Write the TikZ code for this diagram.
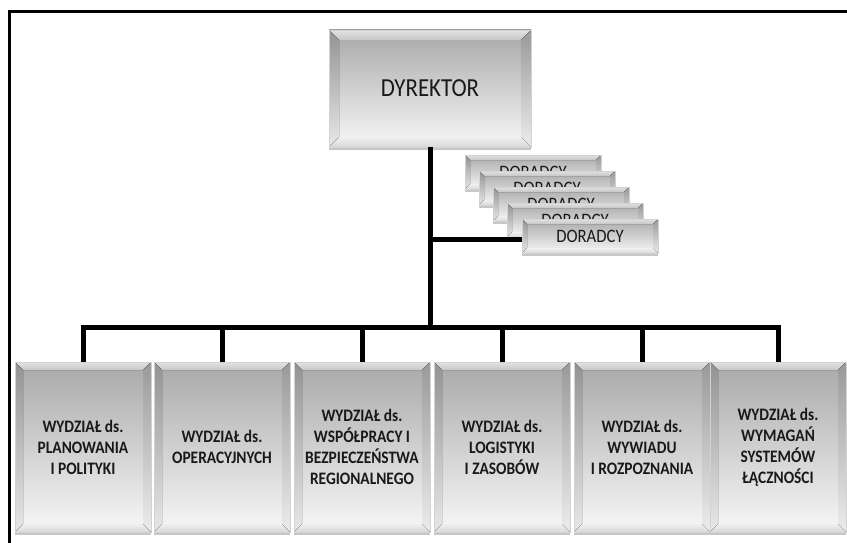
\documentclass[tikz,border=0pt]{standalone}
\usepackage{fontspec}
\newfontfamily\lblfont[FakeStretch=0.88]{Carlito}
\usetikzlibrary{calc,shadows}

\tikzset{
  % raised, bevelled grey panel; value = width of the bevel
  bevelface/.style={
    draw=gray!35, line width=0.7pt,
    top color=gray!68, bottom color=gray!6,
    drop shadow={shadow xshift=0pt, shadow yshift=-3pt, opacity=0.55, fill=gray!80},
    path picture={
      \coordinate (pnw) at (path picture bounding box.north west);
      \coordinate (pne) at (path picture bounding box.north east);
      \coordinate (psw) at (path picture bounding box.south west);
      \coordinate (pse) at (path picture bounding box.south east);
      \coordinate (inw) at ($(pnw)+(#1,-#1)$);
      \coordinate (ine) at ($(pne)+(-#1,-#1)$);
      \coordinate (isw) at ($(psw)+(#1,#1)$);
      \coordinate (ise) at ($(pse)+(-#1,#1)$);
      \fill[top color=gray!22, bottom color=gray!45] (pnw) -- (pne) -- (ine) -- (inw) -- cycle;
      \fill[top color=gray!85, bottom color=gray!18] (pnw) -- (inw) -- (isw) -- (psw) -- cycle;
      \fill[top color=gray!80, bottom color=gray!15] (pne) -- (ine) -- (ise) -- (pse) -- cycle;
      \fill[top color=gray!12, bottom color=gray!30] (psw) -- (isw) -- (ise) -- (pse) -- cycle;
    }
  },
  headbox/.style={bevelface=10pt, minimum width=202pt, minimum height=117pt,
    inner sep=0pt, text=black!90,
    font=\lblfont\fontsize{26}{30}\selectfont},
  advbox/.style={bevelface=5pt, minimum width=136pt, minimum height=34pt,
    inner sep=0pt, text=black!90,
    font=\lblfont\fontsize{19}{22}\selectfont},
  deptbox/.style={bevelface=8pt, minimum width=136pt, minimum height=170pt,
    inner sep=0pt, align=center, text=black!90,
    font=\lblfont\bfseries\fontsize{17.5}{21}\selectfont},
  conn/.style={line width=5pt, black, line join=miter},
  frameline/.style={line width=3pt, black}
}

\begin{document}
\begin{tikzpicture}[x=1pt, y=-1pt]
  \useasboundingbox (0,0) rectangle (847,543);

  % outer frame (left and top edges)
  \draw[frameline] (9.3,543) -- (9.3,11.3) -- (847,11.3);

  % director
  \node[headbox] (dir) at (430,88.5) {DYREKTOR};

  % stacked advisers, back to front
  \node[advbox] (d1) at (533,172) {DORADCY};
  \node[advbox] (d2) at (547,188) {DORADCY};
  \node[advbox] (d3) at (561,204) {DORADCY};
  \node[advbox] (d4) at (575,220) {DORADCY};
  \node[advbox] (d5) at (590,236) {DORADCY};

  % departments
  \node[deptbox] (w1) at (83,447)  {WYDZIAŁ ds.\\PLANOWANIA\\I POLITYKI};
  \node[deptbox] (w2) at (222,447) {WYDZIAŁ ds.\\OPERACYJNYCH};
  \node[deptbox] (w3) at (362,447) {WYDZIAŁ ds.\\WSPÓŁPRACY I\\BEZPIECZEŃSTWA\\REGIONALNEGO};
  \node[deptbox] (w4) at (502,447) {WYDZIAŁ ds.\\LOGISTYKI\\I ZASOBÓW};
  \node[deptbox] (w5) at (642,447) {WYDZIAŁ ds.\\WYWIADU\\I ROZPOZNANIA};
  \node[deptbox] (w6) at (778,447) {WYDZIAŁ ds.\\WYMAGAŃ\\SYSTEMÓW\\ŁĄCZNOŚCI};

  % connectors
  \coordinate (bus) at (430,327);
  \draw[conn] (dir.south) -- (bus);
  \draw[conn] (dir.south |- 0,239) -- (d5.west |- 0,239);
  \draw[conn] (w1.north) -- (w1.north |- bus) -- (w6.north |- bus) -- (w6.north);
  \foreach \w in {w2,w3,w4,w5}
    \draw[conn] (\w.north |- bus) -- (\w.north);
\end{tikzpicture}
\end{document}
